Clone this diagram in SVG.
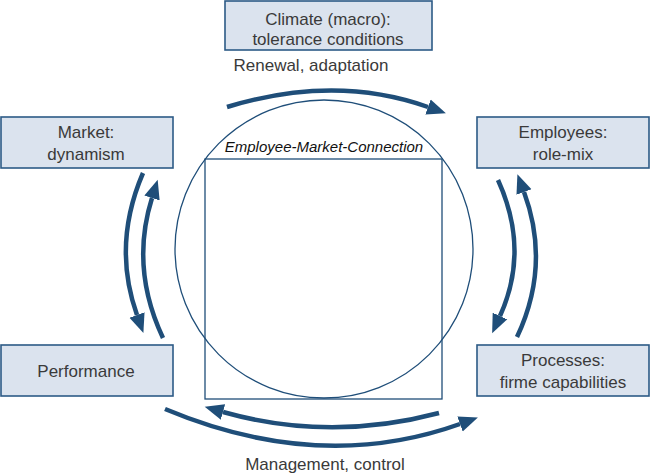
<svg xmlns="http://www.w3.org/2000/svg" width="650" height="476" viewBox="0 0 650 476">
<style>
.box{fill:#dbe3ee;stroke:#2c5a86;stroke-width:1.6}
.t{font-family:"Liberation Sans",Arial,sans-serif;font-size:17px;fill:#3a3a3a;text-anchor:middle}
.arr{fill:none;stroke:#1f4e79;stroke-width:4.5;marker-end:url(#ah)}
.shape{fill:none;stroke:#1f4e79;stroke-width:1.3}
</style>
<defs>
<marker id="ah" markerUnits="userSpaceOnUse" markerWidth="20" markerHeight="18" refX="0" refY="8" orient="auto" viewBox="0 0 20 16">
<path d="M0,0 L19,8 L0,16 z" fill="#1f4e79"/>
</marker>
</defs>
<g id="center">
<circle class="shape" cx="324" cy="249" r="149"/>
<rect class="shape" x="205" y="159" width="237" height="240"/>
<text x="324" y="152" font-family="Liberation Sans,Arial,sans-serif" font-size="15" font-style="italic" fill="#111" text-anchor="middle">Employee-Market-Connection</text>
</g>
<g id="climate">
<rect class="box" x="225" y="1" width="207" height="49"/>
<text class="t" x="328" y="25">Climate (macro):</text>
<text class="t" x="328" y="45">tolerance conditions</text>
</g>
<g id="market">
<rect class="box" x="1" y="117" width="172" height="51"/>
<text class="t" x="86" y="138">Market:</text>
<text class="t" x="86" y="160">dynamism</text>
</g>
<g id="performance">
<rect class="box" x="1" y="345" width="172" height="51"/>
<text class="t" x="86" y="377">Performance</text>
</g>
<g id="employees">
<rect class="box" x="477" y="117" width="172" height="51"/>
<text class="t" x="563" y="138">Employees:</text>
<text class="t" x="563" y="160">role-mix</text>
</g>
<g id="processes">
<rect class="box" x="477" y="345" width="172" height="51"/>
<text class="t" x="563" y="366">Processes:</text>
<text class="t" x="563" y="388">firme capabilities</text>
</g>
<g id="connectors">
<path class="arr" d="M227,107 Q335,74 428,107"/>
<path class="arr" d="M143,173 Q112,245 137,315"/>
<path class="arr" d="M163,338 Q130,268 152,198"/>
<path class="arr" d="M498,180 Q530,250 500,316"/>
<path class="arr" d="M517,337 Q551,265 524,192"/>
<path class="arr" d="M439,413 Q330,442 223,412"/>
<path class="arr" d="M165,409 Q320,474 460,424"/>
<text class="t" x="311" y="71">Renewal, adaptation</text>
<text class="t" x="325" y="470">Management, control</text>
</g>
</svg>
